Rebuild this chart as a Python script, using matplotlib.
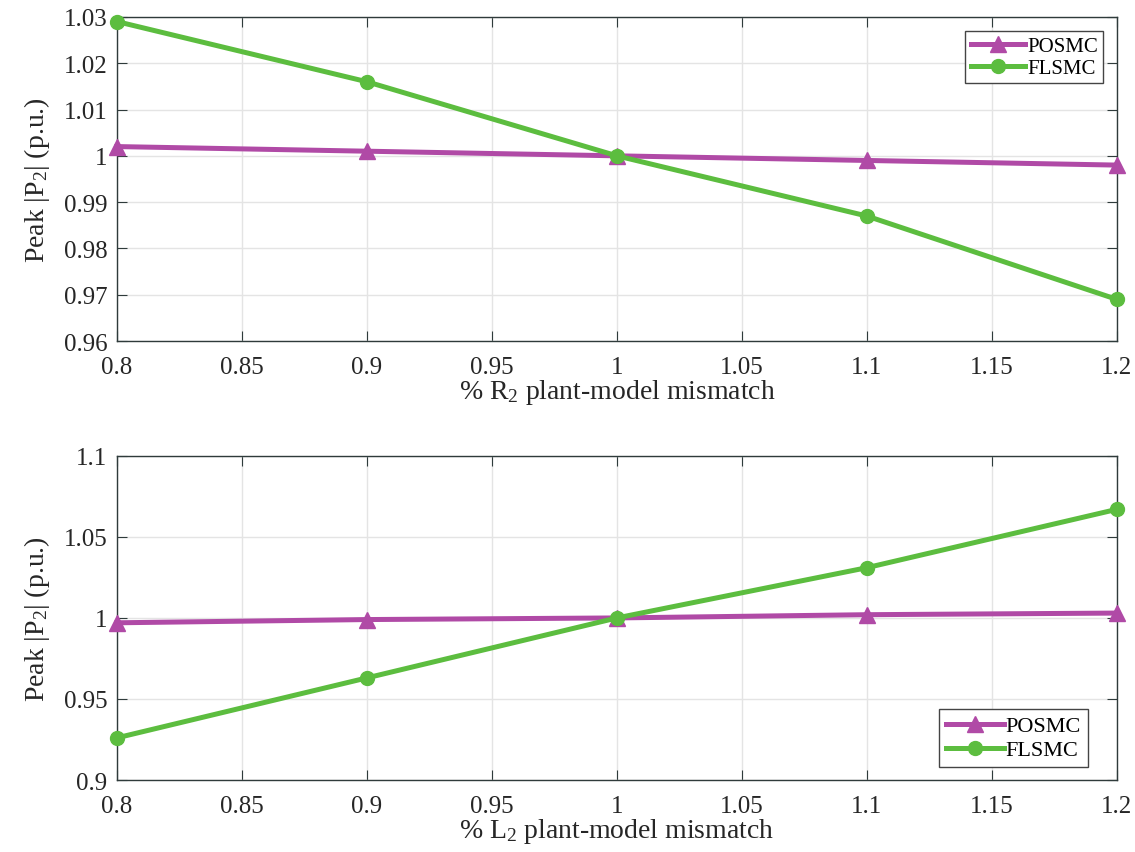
import numpy as np
import matplotlib
matplotlib.use("Agg")
import matplotlib.pyplot as plt
from matplotlib.ticker import FuncFormatter

plt.rcParams['font.family'] = ['Liberation Serif', 'DejaVu Serif']
plt.rcParams['mathtext.fontset'] = 'custom'
plt.rcParams['mathtext.rm'] = 'Liberation Serif'
plt.rcParams['mathtext.default'] = 'regular'

# Données
mismatch = [0.8, 0.9, 1.0, 1.1, 1.2]

r2_posmc = [1.002, 1.001, 1.000, 0.999, 0.998]
r2_flsmc = [1.029, 1.016, 1.000, 0.987, 0.969]

l2_posmc = [0.997, 0.999, 1.000, 1.002, 1.003]
l2_flsmc = [0.926, 0.963, 1.000, 1.031, 1.067]

x_ticks = [0.8, 0.85, 0.9, 0.95, 1.0, 1.05, 1.1, 1.15, 1.2]
r2_yticks = [0.96, 0.97, 0.98, 0.99, 1.0, 1.01, 1.02, 1.03]
l2_yticks = [0.9, 0.95, 1.0, 1.05, 1.1]

c_posmc = '#b04aa6'
c_flsmc = '#5cbd3f'
c_axes = '#2f3b3b'

fig = plt.figure(figsize=(11.35, 8.53), dpi=100)
ax1 = fig.add_axes([0.103, 0.599, 0.881, 0.380])
ax2 = fig.add_axes([0.103, 0.0844, 0.881, 0.380])

fmt = FuncFormatter(lambda v, p: f'{v:g}')


def style(ax, yticks, xlabel):
    ax.set_xlim(0.8, 1.2)
    ax.set_ylim(yticks[0], yticks[-1])
    ax.set_xticks(x_ticks)
    ax.set_yticks(yticks)
    ax.xaxis.set_major_formatter(fmt)
    ax.yaxis.set_major_formatter(fmt)
    ax.grid(True, color='#e4e4e4', linewidth=1.0)
    ax.set_axisbelow(True)
    ax.tick_params(direction='in', top=True, right=True, length=7,
                   labelsize=18, colors=c_axes, labelcolor='#262626')
    ax.tick_params(axis='x', pad=11)
    ax.tick_params(axis='y', pad=7)
    for s in ax.spines.values():
        s.set_color(c_axes)
        s.set_linewidth(1.0)
    ax.set_xlabel(xlabel, fontsize=20, color='#262626', labelpad=-1)
    ax.set_ylabel('Peak |P$_2$| (p.u.)', fontsize=20, color='#262626', labelpad=8)


ax1.plot(mismatch, r2_posmc, '-^', color=c_posmc, lw=3.6, ms=11,
         label='POSMC', clip_on=False, zorder=3)
ax1.plot(mismatch, r2_flsmc, '-o', color=c_flsmc, lw=3.6, ms=10,
         label='FLSMC', clip_on=False, zorder=4)
style(ax1, r2_yticks, '% R$_2$ plant-model mismatch')
leg1 = ax1.legend(loc='upper right', bbox_to_anchor=(0.986, 0.955), fontsize=15,
                  fancybox=False, framealpha=1, edgecolor='#444444',
                  handlelength=2.6, handletextpad=0.1, borderpad=0.25,
                  labelspacing=0.1, borderaxespad=0)
leg1.get_frame().set_linewidth(1.0)

ax2.plot(mismatch, l2_posmc, '-^', color=c_posmc, lw=3.6, ms=11,
         label='POSMC', clip_on=False, zorder=3)
ax2.plot(mismatch, l2_flsmc, '-o', color=c_flsmc, lw=3.6, ms=10,
         label='FLSMC', clip_on=False, zorder=4)
style(ax2, l2_yticks, '% L$_2$ plant-model mismatch')
leg2 = ax2.legend(loc='lower right', bbox_to_anchor=(0.971, 0.04), fontsize=16,
                  fancybox=False, framealpha=1, edgecolor='#444444',
                  handlelength=2.6, handletextpad=0.1, borderpad=0.3,
                  labelspacing=0.15, borderaxespad=0)
leg2.get_frame().set_linewidth(1.0)

fig.savefig('out.png', dpi=100, facecolor='white')
